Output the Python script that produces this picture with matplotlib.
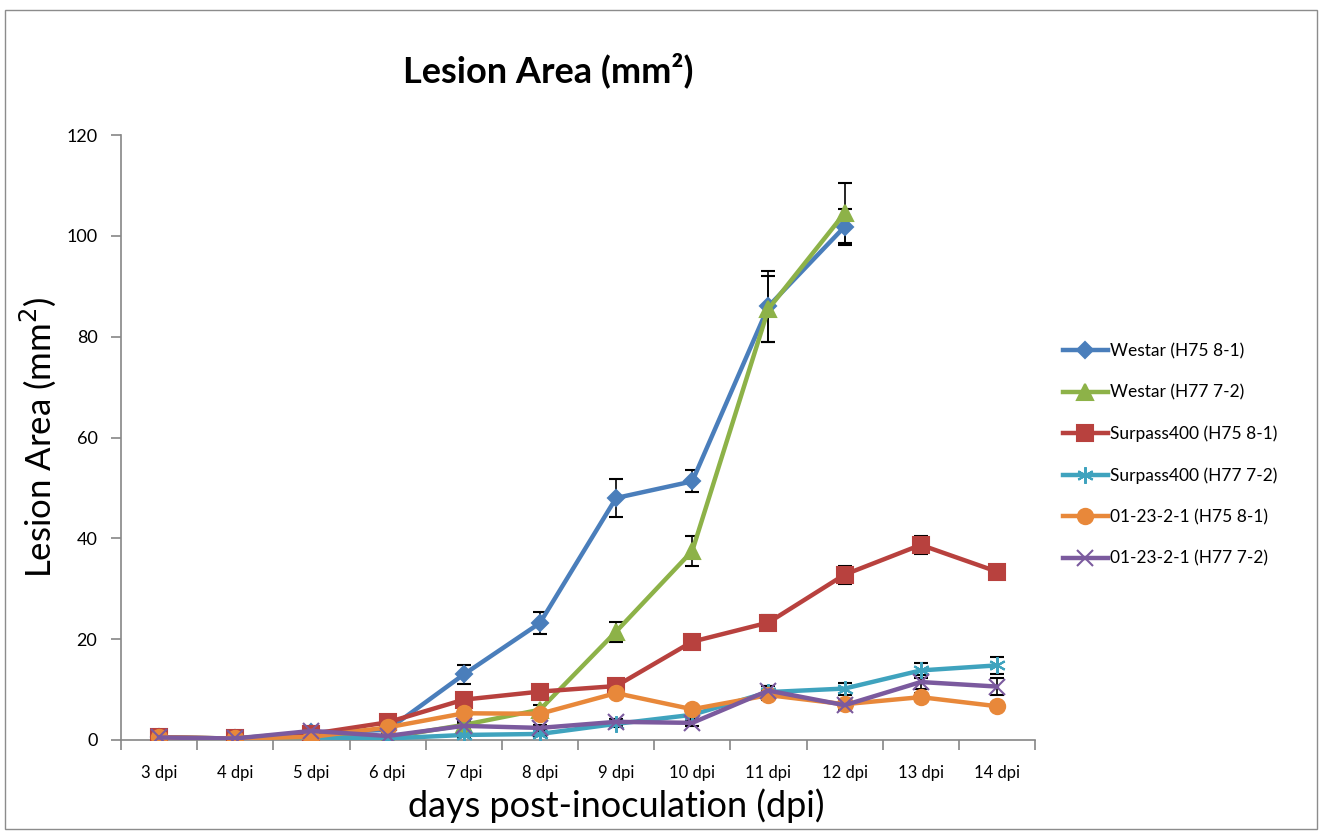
import matplotlib.pyplot as plt
import numpy as np

plt.rcParams['font.family'] = ['Lato', 'DejaVu Sans']

days = ['3 dpi', '4 dpi', '5 dpi', '6 dpi', '7 dpi', '8 dpi', '9 dpi',
        '10 dpi', '11 dpi', '12 dpi', '13 dpi', '14 dpi']

westar_h75 = [0.5, 0.3, 1.5, 2.0, 13.0, 23.2, 48.0, 51.3, 86.0, 101.8]
westar_h75_err = [0.3, 0.2, 0.4, 0.5, 1.8, 2.2, 3.8, 2.2, 7.0, 3.6]
westar_h77 = [0.5, 0.3, 1.0, 0.5, 3.0, 6.0, 21.5, 37.5, 85.5, 104.5]
westar_h77_err = [0.2, 0.2, 0.3, 0.3, 0.8, 1.0, 2.0, 3.0, 6.5, 6.0]
surpass_h75 = [0.5, 0.3, 1.2, 3.5, 8.0, 9.6, 10.7, 19.5, 23.3, 32.8, 38.7, 33.4]
surpass_h75_err = [0.2, 0.2, 0.3, 0.5, 0.8, 0.8, 1.0, 0.9, 1.5, 1.8, 1.8, 0.8]
surpass_h77 = [0.3, 0.2, 0.5, 0.3, 1.0, 1.2, 3.2, 5.0, 9.5, 10.2, 13.8, 14.8]
surpass_h77_err = [0.1, 0.1, 0.2, 0.2, 0.4, 0.5, 0.6, 0.8, 1.2, 1.2, 1.5, 1.7]
line_h75 = [0.5, 0.3, 0.6, 2.5, 5.3, 5.2, 9.3, 6.1, 8.9, 7.1, 8.5, 6.7]
line_h75_err = [0.2, 0.2, 0.3, 0.4, 0.6, 0.6, 0.8, 0.7, 0.9, 0.8, 0.8, 0.7]
line_h77 = [0.5, 0.3, 1.8, 0.8, 2.8, 2.4, 3.6, 3.4, 9.8, 6.9, 11.5, 10.6]
line_h77_err = [0.2, 0.2, 0.3, 0.3, 0.5, 0.5, 0.6, 0.6, 1.0, 0.9, 1.4, 1.6]

labels = ['Westar (H75 8-1)', 'Westar (H77 7-2)', 'Surpass400 (H75 8-1)',
          'Surpass400 (H77 7-2)', '01-23-2-1 (H75 8-1)', '01-23-2-1 (H77 7-2)']
colors = ['#4A7EBB', '#8DB248', '#B8413E', '#3FA3BE', '#E8883A', '#7B5A9E']
markers = ['D', '^', 's', (6, 2, 0), 'o', 'x']
msizes = [8, 11, 11, 12, 11, 11]
series = [(westar_h75, westar_h75_err), (westar_h77, westar_h77_err),
          (surpass_h75, surpass_h75_err), (surpass_h77, surpass_h77_err),
          (line_h75, line_h75_err), (line_h77, line_h77_err)]

fig = plt.figure(figsize=(13.22, 8.32), dpi=100)
ax = fig.add_axes([121 / 1322, 92 / 832, 914 / 1322, 605 / 832])

handles = []
for (vals, err), lab, c, m, ms in zip(series, labels, colors, markers, msizes):
    x = np.arange(len(vals))
    eb = ax.errorbar(x, vals, yerr=err, color=c, ecolor='black', elinewidth=1.2,
                     capsize=5, capthick=1.2, lw=3.2, marker=m, markersize=ms,
                     markeredgecolor=c, markeredgewidth=1.5, label=lab, zorder=3)
    handles.append(eb.lines[0])

ax.set_xlim(-0.5, len(days) - 0.5)
ax.set_ylim(0, 120)
ax.set_yticks(np.arange(0, 121, 20))
ax.set_xticks(np.arange(len(days)))
ax.set_xticklabels(days, fontsize=12)
ax.set_xticks(np.arange(-0.5, len(days), 1), minor=True)
ax.tick_params(axis='x', which='major', length=0, pad=18)
ax.tick_params(axis='x', which='minor', length=7, color='#868686', width=1.2)
ax.tick_params(axis='y', length=7, color='#868686', width=1.2, labelsize=13, pad=10)
for s in ['top', 'right']:
    ax.spines[s].set_visible(False)
for s in ['left', 'bottom']:
    ax.spines[s].set_color('#868686')
    ax.spines[s].set_linewidth(1.2)

ax.set_ylabel('Lesion Area (mm$^2$)', fontsize=25, labelpad=6)
fig.text(616 / 1322, 1 - 806 / 832, 'days post-inoculation (dpi)', fontsize=26,
         ha='center', va='center')
fig.text(548 / 1322, 1 - 70 / 832, 'Lesion Area (mm²)', fontsize=26,
         fontweight='bold', ha='center', va='center')

leg = ax.legend(handles, labels, loc='center left',
                bbox_to_anchor=(1047 / 1322, 1 - 455 / 832),
                bbox_transform=fig.transFigure, frameon=False, fontsize=12.5,
                handlelength=2.6, labelspacing=1.45, handletextpad=0.1)

fig.patches.append(plt.Rectangle((0.004, 0.004), 1 - 0.008, 1 - 0.016,
                                 transform=fig.transFigure, fill=False,
                                 edgecolor='#8c8c8c', lw=1))

fig.savefig('out.png', dpi=100)
